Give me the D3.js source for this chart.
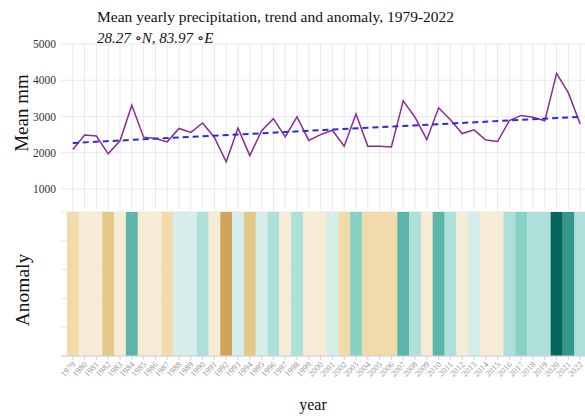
<!DOCTYPE html>
<html>
<head>
<meta charset="utf-8">
<script src="https://cdn.jsdelivr.net/npm/d3@7"></script>
<style>
  body { margin: 0; background: #fff; }
  svg { display: block; font-family: "Liberation Serif", "DejaVu Serif", serif; }
</style>
</head>
<body>
<svg id="chart" width="585" height="416"></svg>
<script>
// yearly mean precipitation (mm)
const years = d3.range(1979, 2023);
const precip = [
  2090, 2490, 2460, 1970, 2330, 3310, 2430, 2390, 2300, 2670,
  2560, 2820, 2420, 1750, 2680, 1920, 2610, 2940, 2440, 2990,
  2340, 2500, 2620, 2180, 3070, 2180, 2180, 2160, 3430, 2980,
  2360, 3240, 2910, 2530, 2630, 2350, 2310, 2890, 3030, 2980,
  2880, 4190, 3650, 2790
];
// dashed trend line, start / end values
const trendYears = [1979, 2022];
const trendVals = [2270, 2990];
const yTicks = [1000, 2000, 3000, 4000, 5000];

const svg = d3.select("#chart");
const left = 61, right = 592;
const top1 = 44, bot1 = 210;   // precipitation panel
const top2 = 212, bot2 = 356;  // anomaly strip

const x = d3.scaleLinear().domain([1978, 2023]).range([left, right]);
const y = d3.scaleLinear().domain([420, 5000]).range([bot1, top1]);

const grid = "#e8e8ee";

// vertical grid in upper panel
svg.append("g").selectAll("line").data(years).join("line")
  .attr("x1", d => x(d)).attr("x2", d => x(d))
  .attr("y1", top1).attr("y2", bot1)
  .attr("stroke", grid).attr("stroke-width", 1);

// horizontal grid + tick labels
svg.append("g").selectAll("line").data(yTicks).join("line")
  .attr("x1", left).attr("x2", 585)
  .attr("y1", d => y(d)).attr("y2", d => y(d))
  .attr("stroke", grid).attr("stroke-width", 1);
svg.append("g").selectAll("text").data(yTicks).join("text")
  .attr("x", 56).attr("y", d => y(d)).attr("dy", "0.35em")
  .attr("text-anchor", "end").attr("font-size", 11.5).attr("fill", "#333")
  .text(d => d);

// anomaly strip: anomaly vs. long-term mean, binned colours
const mean = d3.mean(precip);
const anomaly = precip.map(v => v - mean);
const color = d3.scaleThreshold()
  .domain([-800, -600, -330, -90, 100, 375, 500, 900, 1300])
  .range(["#d3a35b", "#e3c88c", "#f1dbab", "#f6ecd6", "#d6eeea",
           "#aee0da", "#88d1c6", "#5bb5a9", "#35968c", "#02665c"]);

const ya = d3.scaleLinear().domain([0, 5]).range([bot2, top2]);
svg.append("g").selectAll("line").data(d3.range(0, 6)).join("line")
  .attr("x1", left).attr("x2", 585)
  .attr("y1", d => ya(d)).attr("y2", d => ya(d))
  .attr("stroke", grid);

svg.append("g").selectAll("rect").data(years).join("rect")
  .attr("x", d => x(d - 0.5))
  .attr("width", d => x(d + 0.5) - x(d - 0.5) + 0.3)
  .attr("y", top2).attr("height", bot2 - top2)
  .attr("fill", (d, i) => color(anomaly[i]));

// x axis
svg.append("line").attr("x1", left).attr("x2", 585)
  .attr("y1", bot2).attr("y2", bot2).attr("stroke", "#d0d0d8");
svg.append("g").selectAll("line").data(years).join("line")
  .attr("x1", d => x(d)).attr("x2", d => x(d))
  .attr("y1", bot2).attr("y2", bot2 + 4).attr("stroke", "#d0d0d8");
svg.append("g").selectAll("text").data(years).join("text")
  .attr("transform", d => `translate(${x(d) + 1},${bot2 + 7}) rotate(-45)`)
  .attr("text-anchor", "end").attr("dy", "0.35em")
  .attr("font-size", 8.5).attr("fill", "#999")
  .text(d => d);

// precipitation line + trend
const line = d3.line().x((d, i) => x(years[i])).y(d => y(d));
svg.append("path").datum(precip)
  .attr("d", line).attr("fill", "none")
  .attr("stroke", "#8a2b94").attr("stroke-width", 1.5);

svg.append("path").datum(trendVals)
  .attr("d", d3.line().x((d, i) => x(trendYears[i])).y(d => y(d)))
  .attr("fill", "none").attr("stroke", "#2b2bdc")
  .attr("stroke-width", 2).attr("stroke-dasharray", "6,4");

// titles
svg.append("text").attr("x", 97).attr("y", 22)
  .attr("font-size", 15.5).attr("fill", "#111")
  .text("Mean yearly precipitation, trend and anomaly, 1979-2022");
svg.append("text").attr("x", 97).attr("y", 43)
  .attr("font-size", 15).attr("font-style", "italic").attr("fill", "#111")
  .text("28.27 ∘N, 83.97 ∘E");

svg.append("text")
  .attr("transform", "translate(28,113) rotate(-90)")
  .attr("text-anchor", "middle").attr("font-size", 19).attr("fill", "#111")
  .text("Mean mm");
svg.append("text")
  .attr("transform", "translate(29,290) rotate(-90)")
  .attr("text-anchor", "middle").attr("font-size", 19.5).attr("fill", "#111")
  .text("Anomaly");
svg.append("text").attr("x", 313).attr("y", 410)
  .attr("text-anchor", "middle").attr("font-size", 16).attr("fill", "#111")
  .text("year");
</script>
</body>
</html>
